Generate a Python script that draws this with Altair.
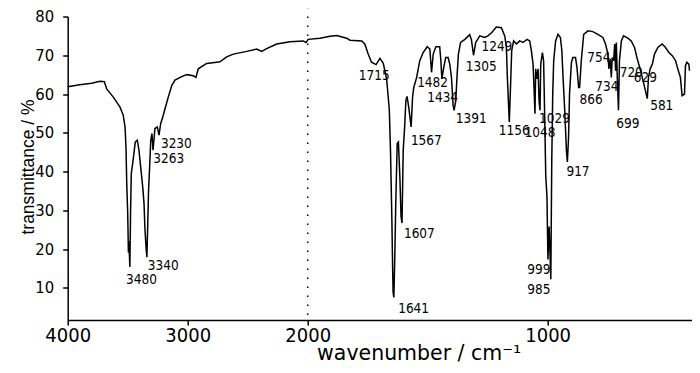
import altair as alt
import pandas as pd

# IR spectrum trace (wavenumber in cm-1, transmittance in %)
wavenumber = [4000, 3900, 3800, 3731, 3695, 3675, 3620, 3564, 3537, 3522, 3514, 3508, 3500, 3494, 3490, 3482,
              3476, 3470, 3455, 3437, 3420, 3406, 3392, 3375, 3364, 3356, 3346, 3340, 3334, 3327, 3316, 3308,
              3298, 3289, 3273, 3253, 3239, 3225, 3212, 3189, 3162, 3133, 3106, 3050, 3008, 2953, 2931, 2912,
              2842, 2758, 2731, 2675, 2620, 2508, 2425, 2383, 2342, 2258, 2147, 2037, 2014, 1998, 1949, 1907,
              1879, 1838, 1824, 1775, 1762, 1748, 1734, 1715, 1699, 1685, 1671, 1660, 1655, 1652, 1649, 1646,
              1644, 1641, 1637, 1633, 1627, 1622, 1616, 1611, 1607, 1602, 1596, 1591, 1586, 1579, 1569, 1563,
              1558, 1546, 1533, 1519, 1502, 1491, 1484, 1477, 1466, 1450, 1445, 1441, 1433, 1425, 1415, 1408,
              1401, 1394, 1390, 1383, 1378, 1372, 1363, 1345, 1325, 1318, 1309, 1300, 1283, 1262, 1249, 1234,
              1214, 1193, 1179, 1172, 1168, 1160, 1155, 1150, 1142, 1130, 1117, 1103, 1086, 1075, 1068, 1061,
              1057, 1053, 1050, 1045, 1040, 1036, 1032, 1029, 1022, 1017, 1013, 1008, 1003, 999, 994, 987,
              983, 979, 975, 967, 957, 947, 941, 936, 929, 922, 918, 913, 909, 901, 895, 884,
              878, 871, 867, 860, 850, 832, 812, 791, 770, 759, 749, 745, 739, 735, 731, 725,
              721, 717, 714, 710, 705, 701, 693, 684, 666, 652, 638, 628, 617, 606, 596, 585,
              580, 573, 564, 555, 541, 523, 509, 495, 481, 467, 458, 447, 440, 430, 426, 420,
              412, 409]
transmittance = [61.9, 62.4, 62.8, 63.3, 63.2, 61.3, 59.2, 56.6, 54.5, 51.5, 46.0, 37.0, 29.3, 19.1, 22.0, 15.4,
                 29.6, 39.5, 42.9, 47.6, 48.1, 45.5, 41.2, 36.1, 31.8, 25.0, 20.0, 17.9, 25.0, 34.4, 42.1, 48.0,
                 49.8, 45.5, 51.1, 51.5, 49.4, 52.4, 53.6, 56.2, 59.2, 62.2, 63.6, 64.5, 65.0, 64.7, 64.3, 66.5,
                 67.9, 68.2, 68.3, 69.6, 70.3, 71.0, 71.6, 71.0, 71.7, 72.9, 73.5, 73.7, 73.3, 74.1, 74.4, 74.9,
                 75.1, 74.4, 73.9, 73.7, 72.9, 70.3, 68.2, 67.6, 69.2, 67.9, 63.8, 56.0, 45.5, 36.1, 26.7, 14.7,
                 8.8, 7.5, 18.2, 31.8, 47.2, 47.6, 38.7, 28.4, 26.7, 45.5, 51.5, 58.3, 59.4, 56.6, 51.5, 59.2,
                 61.7, 64.3, 68.6, 70.7, 72.2, 71.6, 65.6, 70.3, 72.2, 72.2, 68.6, 63.9, 66.9, 69.4, 69.4, 67.7,
                 64.3, 57.0, 55.8, 58.3, 64.3, 70.3, 73.3, 74.1, 75.3, 74.1, 70.0, 73.3, 75.0, 74.6, 75.0, 75.8,
                 77.3, 77.1, 75.0, 72.0, 64.3, 52.8, 61.7, 71.2, 73.7, 72.9, 73.7, 73.3, 74.1, 73.7, 71.2, 67.7,
                 61.7, 54.9, 66.5, 63.9, 66.5, 58.3, 55.8, 67.7, 70.7, 68.6, 55.8, 38.7, 33.5, 17.3, 25.8, 12.2,
                 42.9, 60.0, 68.6, 73.7, 75.4, 74.6, 71.2, 64.3, 55.8, 45.5, 42.5, 48.9, 60.0, 68.2, 69.4, 69.4,
                 66.9, 61.7, 61.7, 68.6, 75.4, 76.3, 76.1, 75.4, 74.6, 72.9, 70.3, 66.5, 69.0, 64.3, 69.4, 68.6,
                 72.9, 66.0, 73.3, 64.3, 55.8, 68.6, 73.7, 75.0, 74.4, 73.7, 72.0, 69.4, 66.9, 64.3, 61.7, 58.8,
                 64.3, 66.5, 67.7, 70.3, 72.0, 72.9, 72.0, 70.7, 69.9, 68.6, 66.5, 64.3, 59.6, 60.0, 67.3, 68.2,
                 67.7, 66.0]

# peak annotations (text, anchor wavenumber, anchor transmittance)
peak_text = ["3480", "3340", "3230", "3263", "1715", "1482", "1434", "1305", "1249", "1391", "1567", "1607",
             "1641", "1156", "1048", "1029", "917", "866", "754", "734", "720", "629", "699", "581", "999", "985"]
peak_wn = [3514, 3333, 3223, 3287, 1787, 1544, 1502, 1341, 1276, 1383, 1570, 1599,
           1623, 1204, 1096, 1036, 922, 867, 835, 802, 700, 641, 714, 573, 1085, 1085]
peak_t = [11.0, 14.5, 46.1, 42.1, 63.6, 61.7, 58.0, 66.0, 71.2, 52.5, 46.8, 22.9,
          3.4, 49.4, 48.8, 52.4, 38.9, 57.5, 68.2, 60.7, 64.3, 63.0, 51.2, 55.8, 13.5, 8.5]

# dotted marker at 2000 cm-1
marker_wn = [2000]
marker_lo = [3.0]
marker_hi = [82.0]

x_ticks = [4000, 3000, 2000, 1000]
y_ticks = [10, 20, 30, 40, 50, 60, 70, 80]

narrow = "Liberation Sans Narrow, DejaVu Sans Condensed, Liberation Sans"

spec = pd.DataFrame({"wn": wavenumber, "t": transmittance})
labels = pd.DataFrame({"wn": peak_wn, "t": peak_t, "txt": peak_text})
marker = pd.DataFrame({"wn": marker_wn, "lo": marker_lo, "hi": marker_hi})

x_scale = alt.Scale(domain=[4000, 2000, 400], range=[0, 240, 624], nice=False, zero=False)
y_scale = alt.Scale(domain=[1.7, 80], nice=False, zero=False)

x_axis = alt.Axis(values=x_ticks, format="d", title="wavenumber / cm⁻¹",
                  labelFont=narrow, labelFontSize=20, labelPadding=1, labelFlush=False,
                  labelOverlap=False,
                  titleFont="DejaVu Sans", titleFontSize=20.5, titleFontWeight="normal",
                  titleX=351, titleY=40, titleBaseline="alphabetic", titleAlign="center")
y_axis = alt.Axis(values=y_ticks, format="d", title="transmittance / %",
                  labelFont=narrow, labelFontSize=16.5, labelPadding=9, labelFlush=False,
                  labelOverlap=False,
                  titleFont="Liberation Sans", titleFontSize=17.5, titleFontWeight="normal",
                  titleX=-34, titleY=150, titleBaseline="alphabetic", titleAlign="center")

line = alt.Chart(spec).mark_line(color="black", strokeWidth=1.5).encode(
    x=alt.X("wn:Q", scale=x_scale, axis=x_axis),
    y=alt.Y("t:Q", scale=y_scale, axis=y_axis),
)

rule = alt.Chart(marker).mark_rule(color="black", strokeWidth=1.5, strokeDash=[1.5, 7.5]).encode(
    x=alt.X("wn:Q", scale=x_scale),
    y=alt.Y("lo:Q", scale=y_scale),
    y2="hi:Q",
)

text = alt.Chart(labels).mark_text(align="left", baseline="alphabetic", font=narrow,
                                    fontSize=13.5, color="black").encode(
    x=alt.X("wn:Q", scale=x_scale),
    y=alt.Y("t:Q", scale=y_scale),
    text="txt:N",
)

chart = alt.layer(rule, line, text).properties(
    width=624, height=303.5,
    autosize=alt.AutoSizeParams(type="none"),
    padding={"left": 59.7, "top": 8.5, "right": 0, "bottom": 45},
).configure_view(stroke=None).configure_axis(
    grid=False, domainColor="black", tickColor="black", labelColor="black", titleColor="black",
    domainWidth=1.5, tickWidth=1.5, tickSize=5,
)

chart.save("out.html", embed_options={"renderer": "svg", "actions": False})
